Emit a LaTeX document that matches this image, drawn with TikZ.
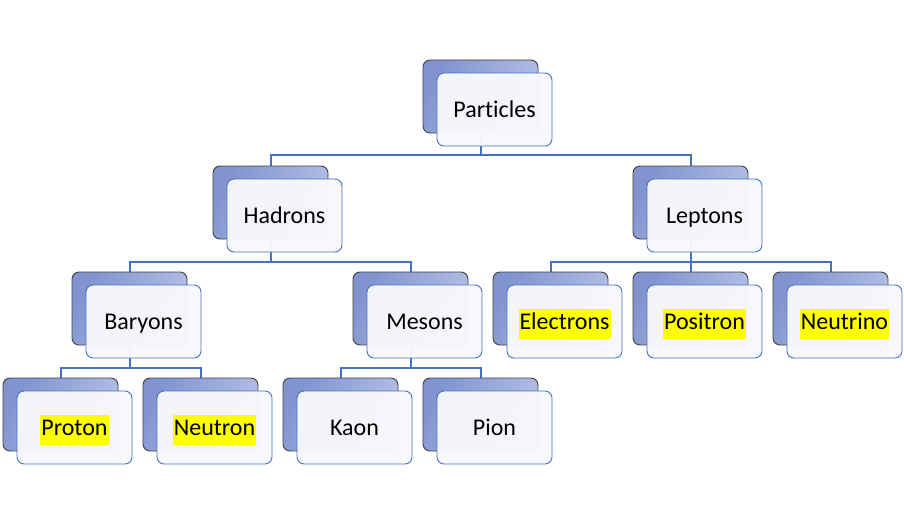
\documentclass[tikz,border=0pt]{standalone}
\usepackage{fontspec}
\setmainfont{Carlito}[Ligatures=NoCommon]
\pgfdeclarelayer{background}
\pgfsetlayers{background,main}
\definecolor{connblue}{HTML}{4472C4}
\definecolor{backlight}{HTML}{B7C2E6}
\definecolor{backdark}{HTML}{8194D0}
\definecolor{backedge}{HTML}{404040}
\definecolor{frontfill}{HTML}{F7F8FB}
\definecolor{hlyellow}{HTML}{FFFF00}
\newcommand{\hlt}[1]{{\setlength{\fboxsep}{1pt}\colorbox{hlyellow}{\strut #1}}}
\tikzset{
  backbox/.style={draw=backedge, line width=0.9pt, rounded corners=7pt,
    minimum width=115pt, minimum height=73pt, inner sep=0pt,
    left color=backdark, right color=backlight, shading angle=60},
  frontbox/.style={draw=connblue, line width=0.9pt, rounded corners=7pt,
    fill=frontfill, fill opacity=0.97, text opacity=1,
    minimum width=115pt, minimum height=73pt, inner sep=0pt,
    text height=21.6pt, text depth=6.4pt,
    font=\fontsize{24}{28}\selectfont},
  conn/.style={draw=connblue, line width=2pt}
}
\newcommand{\pbox}[4]{%
  \node[backbox] (#1b) at (#2+57.5,#3+36.5) {};
  \node[frontbox] (#1f) at (#2+71.5,#3+49.5) {#4};
}
\begin{document}
\begin{tikzpicture}[x=1pt,y=-1pt]
\useasboundingbox (0,0) rectangle (904,527);
\pbox{pa}{423}{60}{Particles}
\pbox{ha}{213}{166}{Hadrons}
\pbox{le}{633}{166}{Leptons}
\pbox{ba}{72}{272}{Baryons}
\pbox{me}{353}{272}{Mesons}
\pbox{el}{493}{272}{\hlt{Electrons}}
\pbox{po}{633}{272}{\hlt{Positron}}
\pbox{ne}{773}{272}{\hlt{Neutrino}}
\pbox{pr}{3}{378}{\hlt{Proton}}
\pbox{nu}{143}{378}{\hlt{Neutron}}
\pbox{ka}{283}{378}{Kaon}
\pbox{pi}{423}{378}{Pion}
\begin{pgfonlayer}{background}
\draw[conn] (pab.south) -- (pab.south |- 0,155) -| (hab.north);
\draw[conn] (pab.south |- 0,155) -| (leb.north);
\draw[conn] (hab.south) -- (hab.south |- 0,261.5) -| (bab.north);
\draw[conn] (hab.south |- 0,261.5) -| (meb.north);
\draw[conn] (leb.south) -- (leb.south |- 0,261.5) -| (elb.north);
\draw[conn] (leb.south |- 0,261.5) -| (neb.north);
\draw[conn] (leb.south) -- (pob.north);
\draw[conn] (bab.south) -- (bab.south |- 0,368) -| (prb.north);
\draw[conn] (bab.south |- 0,368) -| (nub.north);
\draw[conn] (meb.south) -- (meb.south |- 0,368) -| (kab.north);
\draw[conn] (meb.south |- 0,368) -| (pib.north);
\end{pgfonlayer}
\end{tikzpicture}
\end{document}
